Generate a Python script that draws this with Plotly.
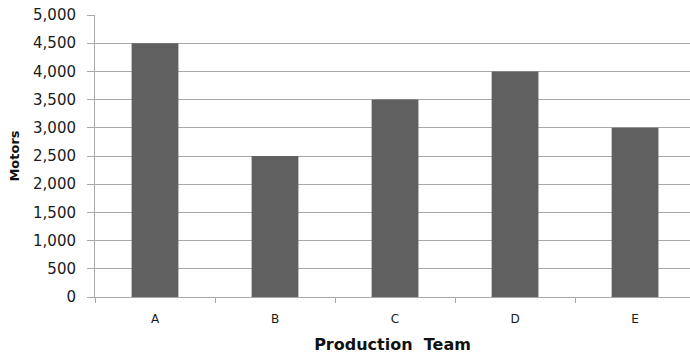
import plotly.graph_objects as go

teams = ["A", "B", "C", "D", "E"]
motors = [4500, 2500, 3500, 4000, 3000]
y_ticks = [0, 500, 1000, 1500, 2000, 2500, 3000, 3500, 4000, 4500, 5000]

grid_col = "#a8a8a8"
font_family = "Verdana, DejaVu Sans, sans-serif"

fig = go.Figure(
    go.Bar(
        x=teams,
        y=motors,
        marker=dict(color="#606060", line=dict(width=0)),
        width=0.39,
    )
)

fig.update_layout(
    width=690,
    height=356,
    margin=dict(l=95, r=0, t=15, b=59),
    paper_bgcolor="white",
    plot_bgcolor="white",
    showlegend=False,
    font=dict(family=font_family, color="#1a1a1a"),
)

fig.update_xaxes(
    range=[-0.5, 4.458],
    showline=True,
    linecolor=grid_col,
    linewidth=1,
    ticks="outside",
    tickson="boundaries",
    ticklen=5,
    tickcolor=grid_col,
    showgrid=False,
    tickfont=dict(size=12, family=font_family, color="#1a1a1a"),
    ticklabelstandoff=11,
    title=dict(
        text="<b>Production  Team</b>",
        font=dict(size=16, family=font_family, color="#111111"),
        standoff=13,
    ),
)

fig.update_yaxes(
    range=[0, 5000],
    tickvals=y_ticks,
    ticktext=[f"{v:,}" for v in y_ticks],
    showline=True,
    linecolor=grid_col,
    linewidth=1,
    ticks="outside",
    ticklen=7,
    tickcolor=grid_col,
    showgrid=True,
    gridcolor=grid_col,
    gridwidth=1,
    zeroline=False,
    tickfont=dict(size=15, family=font_family, color="#1a1a1a"),
    ticklabelstandoff=8,
    title=dict(
        text="<b>Motors</b>",
        font=dict(size=13, family=font_family, color="#111111"),
        standoff=10,
    ),
)

fig.write_html("out.html")
